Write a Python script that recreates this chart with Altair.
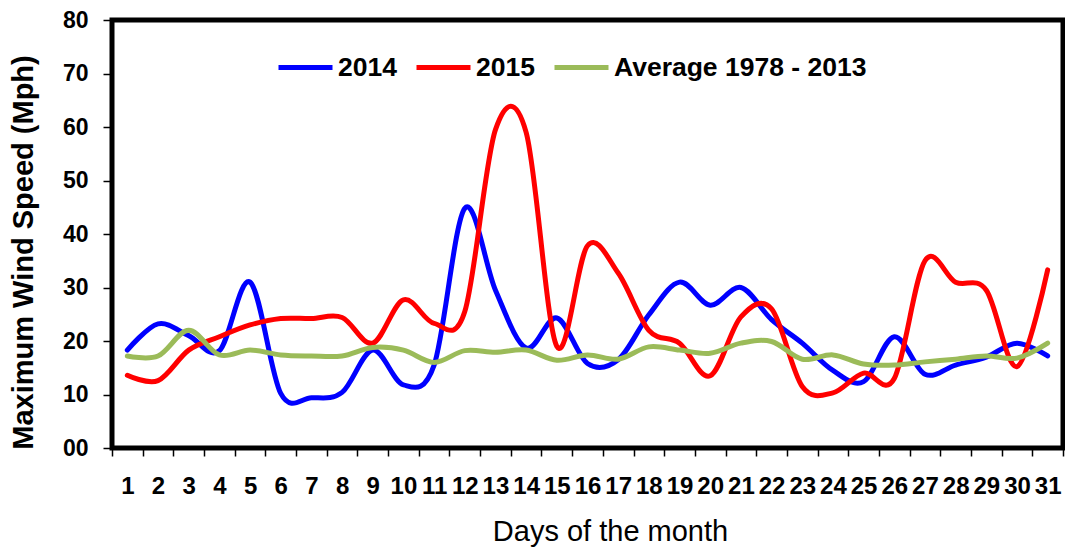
import altair as alt
import pandas as pd

days = list(range(1, 32))
series_names = ["2014", "2015", "Average 1978 - 2013"]
colors = ["#0000FF", "#FF0000", "#9BBB59"]

wind_2014 = [18.3, 23.2, 21.0, 18.2, 31.0, 10.2, 9.4, 10.4, 18.3, 11.8, 15.5, 44.8, 29.5,
             18.7, 24.3, 15.8, 16.5, 24.9, 31.0, 26.7, 30.0, 24.0, 19.6, 14.5, 12.4, 20.8,
             13.8, 15.5, 17.0, 19.6, 17.2]
wind_2015 = [13.6, 12.6, 18.3, 20.8, 23.0, 24.2, 24.2, 24.4, 19.6, 27.7, 23.3, 25.5, 59.5,
             59.0, 19.0, 37.8, 32.7, 22.0, 19.6, 13.5, 24.5, 26.0, 11.5, 10.3, 14.0, 13.0,
             35.0, 31.0, 29.5, 15.2, 33.3]
wind_avg = [17.2, 17.2, 22.0, 17.4, 18.3, 17.4, 17.2, 17.2, 18.8, 18.3, 16.0, 18.2, 17.9,
            18.3, 16.4, 17.4, 16.6, 18.9, 18.3, 17.7, 19.6, 19.9, 16.6, 17.4, 15.7, 15.5,
            16.1, 16.6, 17.2, 16.8, 19.6]

rows = []
for name, vals in zip(series_names, [wind_2014, wind_2015, wind_avg]):
    for d, v in zip(days, vals):
        rows.append({"day": d, "speed": v, "series": name})
df = pd.DataFrame(rows)

chart = alt.Chart(df).mark_line(
    interpolate="cardinal", strokeWidth=5, strokeCap="round"
).encode(
    x=alt.X(
        "day:O",
        scale=alt.Scale(type="band", paddingInner=0, paddingOuter=0),
        axis=alt.Axis(
            title="Days of the month",
            labelAngle=0,
            tickBand="extent",
            tickSize=8,
            tickColor="black",
            tickWidth=1.5,
            labelPadding=18,
            labelFont="Liberation Sans",
            labelFontSize=24,
            labelFontWeight="bold",
            labelColor="black",
            domain=False,
            titleFont="Liberation Sans",
            titleFontSize=29,
            titleFontWeight="normal",
            titleColor="black",
            titleX=498,
            titleY=83,
            titleBaseline="middle",
        ),
    ),
    y=alt.Y(
        "speed:Q",
        scale=alt.Scale(domain=[0, 80], nice=False),
        axis=alt.Axis(
            title="Maximum Wind Speed (Mph)",
            values=[0, 10, 20, 30, 40, 50, 60, 70, 80],
            format="02d",
            grid=False,
            domain=False,
            tickSize=9,
            tickColor="black",
            tickWidth=1.5,
            labelPadding=15,
            labelFont="Liberation Sans",
            labelFontSize=23,
            labelFontWeight="bold",
            labelColor="black",
            titleFont="Liberation Sans",
            titleFontSize=29,
            titleFontWeight="bold",
            titleColor="black",
            titleX=-89,
            titleY=232,
            titleAlign="center",
            titleBaseline="middle",
        ),
    ),
    color=alt.Color(
        "series:N",
        scale=alt.Scale(domain=series_names, range=colors),
        sort=series_names,
        legend=alt.Legend(
            title=None,
            orient="none",
            direction="horizontal",
            legendX=164,
            legendY=18,
            symbolType="stroke",
            symbolSize=2916,
            symbolStrokeWidth=5,
            labelOffset=3,
            columnPadding=9,
            labelLimit=400,
            labelFont="Liberation Sans",
            labelFontSize=26.5,
            labelFontWeight="bold",
            labelColor="black",
        ),
    ),
    order=alt.Order("day:O"),
).properties(
    width=951,
    height=428,
    autosize=alt.AutoSizeParams(type="none"),
    padding={"left": 104, "top": 12, "right": 2, "bottom": 100},
).configure_view(
    stroke="black", strokeWidth=5
)

chart.save("out.html", embed_options={"renderer": "svg", "actions": False})
